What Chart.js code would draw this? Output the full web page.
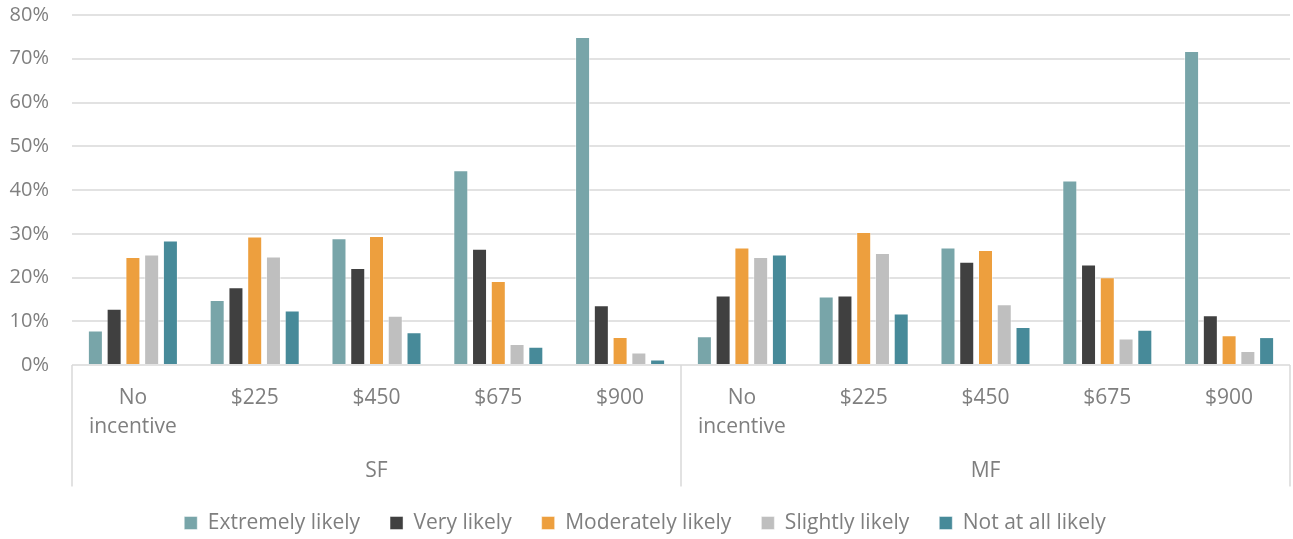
<!DOCTYPE html>
<html>
<head>
<meta charset="utf-8">
<title>Likelihood by incentive level</title>
<script src="https://cdn.jsdelivr.net/npm/chart.js@4/dist/chart.umd.min.js"></script>
<style>
  html, body { margin: 0; padding: 0; background: #ffffff; }
  #wrap { width: 1293px; height: 539px; }
  canvas { display: block; }
</style>
</head>
<body>
<div id="wrap"><canvas id="chart" width="1293" height="539"></canvas></div>
<script>
// Incentive levels, repeated for each building type
const categories = [['No', 'incentive'], '$225', '$450', '$675', '$900',
                    ['No', 'incentive'], '$225', '$450', '$675', '$900'];
const groups = ['SF', 'MF'];
const seriesNames = ['Extremely likely', 'Very likely', 'Moderately likely', 'Slightly likely', 'Not at all likely'];

// Share of respondents (%), SF first then MF
const extremelyLikely  = [7.9, 14.9, 29.0, 44.5, 75.0,   6.6, 15.7, 26.9, 42.2, 71.8];
const veryLikely       = [12.9, 17.8, 22.2, 26.6, 13.7,  15.9, 15.9, 23.6, 23.0, 11.4];
const moderatelyLikely = [24.7, 29.4, 29.5, 19.2, 6.4,   26.9, 30.4, 26.3, 20.1, 6.8];
const slightlyLikely   = [25.3, 24.8, 11.3, 4.8, 2.9,    24.7, 25.6, 13.9, 6.1, 3.2];
const notAtAllLikely   = [28.5, 12.5, 7.5, 4.2, 1.3,     25.3, 11.8, 8.7, 8.1, 6.4];

const yMin = 0, yMax = 80, yStep = 10;

const seriesValues = [extremelyLikely, veryLikely, moderatelyLikely, slightlyLikely, notAtAllLikely];
const seriesColors = ['#78a5a9', '#404040', '#ed9f3e', '#bfbfbf', '#478a99'];

const textColor = '#7f7f7f';
const fontFamily = '"Open Sans", "DejaVu Sans", sans-serif';

// Vertical dividers framing each building-type group under the axis
const groupDividers = {
  id: 'groupDividers',
  afterDraw(chart) {
    const xs = chart.scales.x;
    const xg = chart.scales.x2;
    const per = categories.length / groups.length;
    const step = (xs.getPixelForValue(1) - xs.getPixelForValue(0));
    const ctx = chart.ctx;
    ctx.save();
    ctx.strokeStyle = '#d9d9d9';
    ctx.lineWidth = 1.5;
    for (let g = 0; g <= groups.length; g++) {
      const px = xs.getPixelForValue(0) - step / 2 + g * per * step;
      ctx.beginPath();
      ctx.moveTo(px, xs.top);
      ctx.lineTo(px, xg.bottom + 4);
      ctx.stroke();
    }
    ctx.restore();
  }
};

new Chart(document.getElementById('chart'), {
  type: 'bar',
  data: {
    labels: categories,
    datasets: seriesNames.map((name, i) => ({
      label: name,
      data: seriesValues[i],
      backgroundColor: seriesColors[i],
      borderColor: 'rgba(255,255,255,0.45)',
      borderWidth: 1,
      xAxisID: 'x',
      yAxisID: 'y',
      categoryPercentage: 0.77,
      barPercentage: 0.8
    }))
  },
  options: {
    responsive: false,
    devicePixelRatio: 1,
    animation: false,
    layout: { padding: { top: 15, right: 3, bottom: -4.5, left: 0 } },
    scales: {
      y: {
        min: yMin,
        max: yMax,
        weight: 0,
        ticks: {
          stepSize: yStep,
          padding: 23,
          color: textColor,
          font: { family: fontFamily, size: 20 },
          callback: v => v + '%'
        },
        grid: { color: '#e2e2e2', lineWidth: 2, drawTicks: false },
        border: { display: false },
        // fixed axis width; the label gap should not inflate the plot's top margin
        afterFit: s => { s.width = 72; s.paddingTop = 0; s.paddingBottom = 0; }
      },
      x: {
        weight: 0,
        ticks: {
          autoSkip: false,
          maxRotation: 0,
          padding: 17.8,
          color: textColor,
          font: { family: fontFamily, size: 21, lineHeight: 1.4 }
        },
        grid: { display: false, drawTicks: false },
        border: { display: false }
      },
      x2: {
        type: 'category',
        labels: groups,
        position: 'bottom',
        offset: true,
        weight: 1,
        ticks: {
          padding: 1,
          color: textColor,
          font: { family: fontFamily, size: 21, lineHeight: 1.0 }
        },
        grid: { display: false, drawTicks: false },
        border: { display: false }
      }
    },
    plugins: {
      legend: {
        position: 'bottom',
        labels: {
          boxWidth: 13,
          boxHeight: 13,
          padding: 30,
          color: textColor,
          font: { family: fontFamily, size: 21 }
        }
      },
      tooltip: { enabled: false }
    }
  },
  plugins: [groupDividers]
});
</script>
</body>
</html>
